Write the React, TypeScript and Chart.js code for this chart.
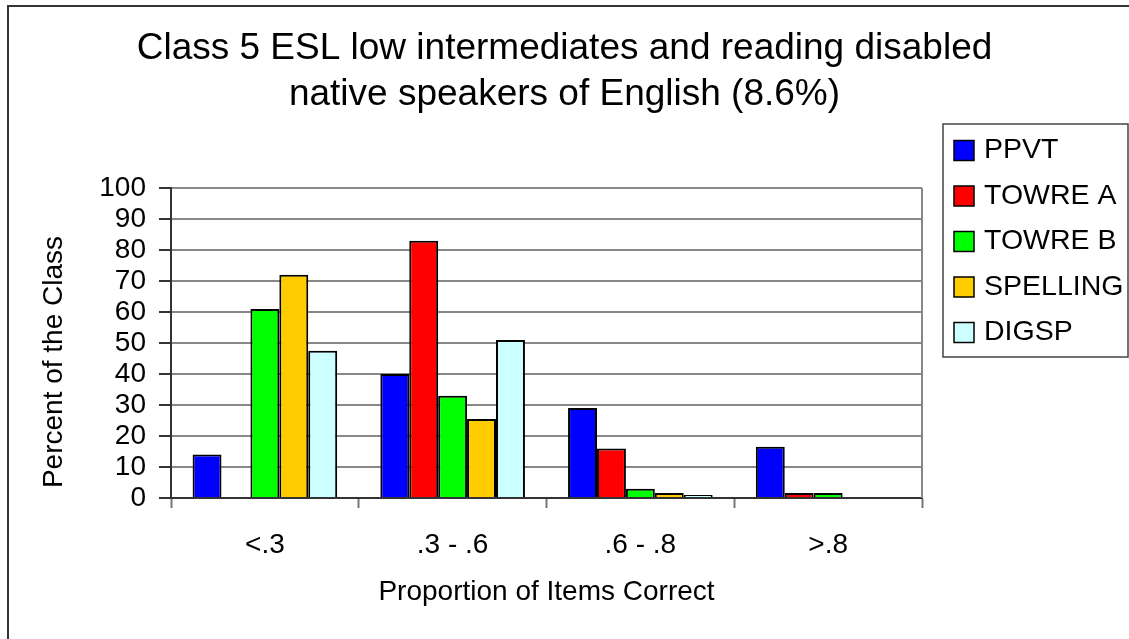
import React, { useEffect, useRef } from "react";
import { Chart, registerables } from "chart.js";

Chart.register(...registerables);

const categories = ["<.3", ".3 - .6", ".6 - .8", ">.8"];
const seriesNames = ["PPVT", "TOWRE A", "TOWRE B", "SPELLING", "DIGSP"];
const seriesColors = ["#0000FF", "#FF0000", "#00FF00", "#FFCC00", "#CCFFFF"];
const ppvt = [14, 40, 29, 16.5];
const towreA = [0, 83, 16, 1.6];
const towreB = [61, 33, 3, 1.6];
const spelling = [72, 25.5, 1.6, 0];
const digsp = [47.5, 51, 1, 0];
const seriesValues = [ppvt, towreA, towreB, spelling, digsp];
const titleLines = ["Class 5 ESL low intermediates and reading disabled", "native speakers of English (8.6%)"];
const xTitle = "Proportion of Items Correct";
const yTitle = "Percent of the Class";

const FONT = "'Liberation Sans', Arial, Helvetica, sans-serif";

const decorPlugin = {
  id: "decor",
  beforeDatasetsDraw(chart: any) {
    const { ctx, chartArea } = chart;
    ctx.save();
    ctx.strokeStyle = "#888888";
    ctx.lineWidth = 2;
    ctx.beginPath();
    ctx.moveTo(chartArea.right, chartArea.top);
    ctx.lineTo(chartArea.right, chartArea.bottom);
    ctx.stroke();
    ctx.restore();
  },
  afterDraw(chart: any) {
    const { ctx } = chart;
    ctx.save();
    // outer chart border (only top and left visible)
    ctx.strokeStyle = "#333333";
    ctx.lineWidth = 2;
    ctx.beginPath();
    ctx.moveTo(8, chart.height + 10);
    ctx.lineTo(8, 6);
    ctx.lineTo(chart.width + 10, 6);
    ctx.stroke();

    // y axis title
    ctx.fillStyle = "#000";
    ctx.font = `28px ${FONT}`;
    ctx.textAlign = "center";
    ctx.textBaseline = "middle";
    ctx.translate(54, 362);
    ctx.rotate(-Math.PI / 2);
    ctx.fillText(yTitle, 0, 0);
    ctx.restore();

    // legend
    ctx.save();
    const lx = 943, ly = 124, lw = 185, lh = 233;
    ctx.strokeStyle = "#444444";
    ctx.lineWidth = 1.5;
    ctx.strokeRect(lx, ly, lw, lh);
    ctx.font = `28.5px ${FONT}`;
    ctx.textAlign = "left";
    ctx.textBaseline = "middle";
    chart.data.datasets.forEach((ds: any, i: number) => {
      const cy = 150.5 + i * 45.5;
      ctx.fillStyle = ds.backgroundColor;
      ctx.fillRect(954, cy - 10, 20, 20);
      ctx.strokeStyle = "#000";
      ctx.lineWidth = 1.5;
      ctx.strokeRect(954, cy - 10, 20, 20);
      ctx.fillStyle = "#000";
      ctx.fillText(ds.label, 984, cy);
    });
    ctx.restore();
  },
};

export default function App() {
  const ref = useRef<HTMLCanvasElement | null>(null);
  useEffect(() => {
    if (!ref.current) return;
    Chart.defaults.font.family = FONT;
    Chart.defaults.color = "#000";
    const chart = new Chart(ref.current, {
      type: "bar",
      data: {
        labels: categories,
        datasets: seriesNames.map((name, i) => ({
          label: name,
          data: seriesValues[i],
          backgroundColor: seriesColors[i],
          borderColor: "#000000",
          borderWidth: 2,
          borderSkipped: "start",
          barPercentage: 1,
          categoryPercentage: 0.77,
        })),
      },
      options: {
        animation: false,
        responsive: true,
        maintainAspectRatio: false,
        layout: { padding: { left: 0, right: 0, top: 0, bottom: 0 } },
        plugins: {
          legend: { display: false },
          tooltip: { enabled: false },
          title: {
            display: true,
            text: titleLines,
            color: "#000",
            font: { size: 37, weight: "normal", lineHeight: 1.24 },
            padding: { top: 26, bottom: 70.2 },
          },
        },
        scales: {
          x: {
            offset: true,
            grid: {
              display: true,
              drawOnChartArea: false,
              drawTicks: true,
              tickLength: 10,
              tickColor: "#777777",
              tickWidth: 2,
              offset: true,
            },
            border: { display: true, color: "#333333", width: 2 },
            ticks: { font: { size: 28 }, padding: 20, color: "#000" },
            title: {
              display: true,
              text: xTitle,
              font: { size: 28 },
              color: "#000",
              padding: { top: 0, bottom: 30 },
            },
            afterFit: (s: any) => {
              s.height = 141;
            },
          },
          y: {
            min: 0,
            max: 100,
            ticks: { stepSize: 10, autoSkip: false, font: { size: 28 }, padding: 13, color: "#000" },
            grid: {
              color: "#888888",
              lineWidth: 2,
              tickLength: 12,
              tickColor: "#333333",
              tickWidth: 2,
            },
            border: { display: true, color: "#333333", width: 2 },
            afterFit: (s: any) => {
              s.width = 171;
            },
          },
          legendSpace: {
            type: "linear",
            position: "right",
            display: false,
            afterFit: (s: any) => {
              s.width = 207;
            },
          },
        },
      },
      plugins: [decorPlugin],
    });
    return () => chart.destroy();
  }, []);
  return (
    <div style={{ position: "absolute", left: 0, top: 0, width: 1129, height: 639, background: "#fff" }}>
      <canvas ref={ref} />
    </div>
  );
}
